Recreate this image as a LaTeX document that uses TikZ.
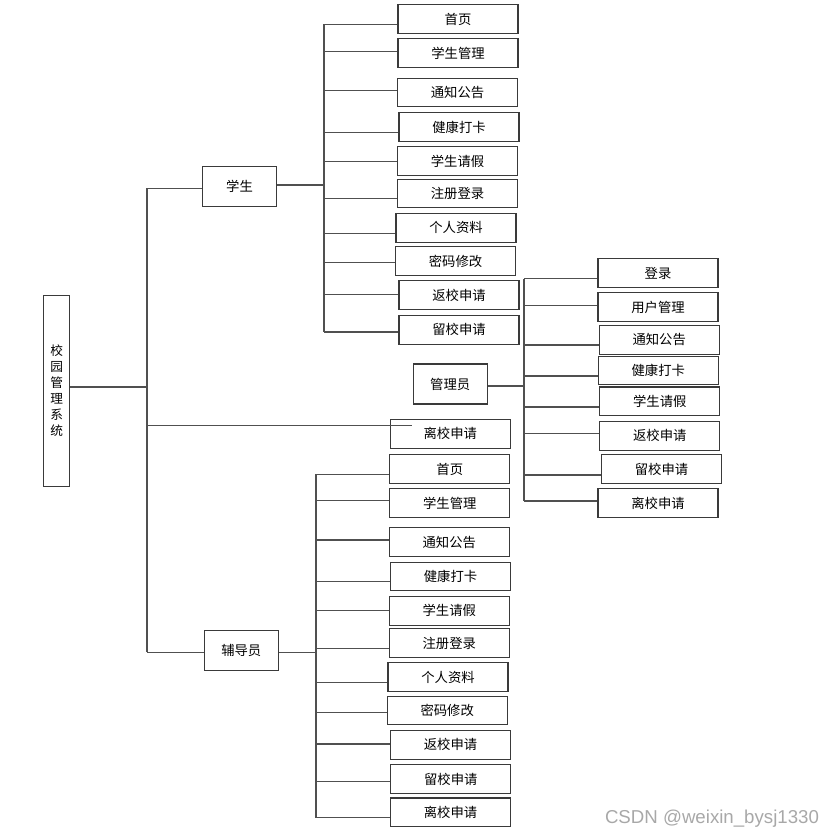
\documentclass[tikz,border=0pt]{standalone}
\usepackage{fontspec}
\newfontfamily\cjk{Noto Sans CJK SC}
\newfontfamily\wmfont{Liberation Sans}
\definecolor{boxline}{HTML}{3A3A3A}
\definecolor{linec}{HTML}{505050}
\definecolor{wmgray}{HTML}{A8A8A8}
\begin{document}
\begin{tikzpicture}[x=0.75pt,y=-0.75pt,
  bx/.style={draw=boxline,line width=0.8pt,minimum width=90pt,minimum height=21.5pt,inner sep=0pt,font=\cjk\fontsize{10}{12}\selectfont},
  midbox/.style={bx,minimum width=55.5pt,minimum height=30pt},
  ln/.style={draw=linec,line width=0.9pt}]
\useasboundingbox (0,0) rectangle (836,838);
% root
\node[bx,minimum width=19.5pt,minimum height=143pt,align=center,font=\cjk\fontsize{9.5}{12}\selectfont] (root) at (56.7,390.8) {校\\园\\管\\理\\系\\统};
% second level
\node[midbox] (st) at (239.5,186.2) {学生};
\node[midbox] (ad) at (450.2,384) {管理员};
\node[midbox] (co) at (241.3,650.2) {辅导员};
\node[bx] (lx) at (450.3,433.8) {离校申请};
% main bus
\coordinate (mt) at (147,188.3);
\coordinate (mr) at (147,387);
\coordinate (ml) at (147,425.5);
\coordinate (mb) at (147,652.3);
\coordinate (lxin) at (412,425.5);
\draw[ln] (mt) -- (mb);
\draw[ln] (mr -| root.east) -- (mr);
\draw[ln] (mt) -- (mt -| st.west);
\draw[ln] (mb) -- (mb -| co.west);
\draw[ln] (ml) -- (lxin);
% student children
\foreach \n/\x/\y/\t in {1/458/19.2/首页,2/458/53.3/学生管理,3/457.5/92.5/通知公告,4/459/127/健康打卡,5/457.5/161/学生请假,6/457.5/193.5/注册登录,7/456/227.7/个人资料,8/455.5/261/密码修改,9/459/295/返校申请,10/459/329.7/留校申请}
  {\node[bx] (s\n) at (\x,\y) {\t};}
\foreach \n/\y in {1/24.3,2/51.3,3/90.3,4/132.3,5/161.3,6/198.7,7/233.3,8/262.7,9/294.3,10/332}
  {\coordinate (sb\n) at (324,\y);
   \draw[ln] (sb\n) -- (sb\n -| s\n.west);}
\draw[ln] (sb1) -- (sb10);
\coordinate (sbm) at (324,185);
\draw[ln] (sbm -| st.east) -- (sbm);
% admin children
\foreach \n/\x/\y/\t in {1/658/273.2/登录,2/658/307/用户管理,3/659.2/339.8/通知公告,4/658.3/370.5/健康打卡,5/659.8/401.3/学生请假,6/659.8/435.7/返校申请,7/661.5/469.2/留校申请,8/658/503.2/离校申请}
  {\node[bx] (a\n) at (\x,\y) {\t};}
\foreach \n/\y in {1/278.7,2/305.3,3/345,4/376,5/407,6/433.3,7/475,8/501}
  {\coordinate (ab\n) at (524,\y);
   \draw[ln] (ab\n) -- (ab\n -| a\n.west);}
\draw[ln] (ab1) -- (ab8);
\coordinate (abm) at (524,386);
\draw[ln] (abm -| ad.east) -- (abm);
% counselor children
\foreach \n/\x/\y/\t in {1/449.8/469/首页,2/449.8/503/学生管理,3/449.3/542/通知公告,4/450.5/576.5/健康打卡,5/449.3/610.7/学生请假,6/449.3/643/注册登录,7/448/677/个人资料,8/447.2/710.5/密码修改,9/450.5/744.7/返校申请,10/450.8/779.2/留校申请,11/450.5/812.3/离校申请}
  {\node[bx] (c\n) at (\x,\y) {\t};}
\foreach \n/\y in {1/474.3,2/500.7,3/540,4/581.7,5/610.3,6/648.3,7/682.3,8/712.3,9/744,10/781.3,11/817.7}
  {\coordinate (cb\n) at (316,\y);
   \draw[ln] (cb\n) -- (cb\n -| c\n.west);}
\draw[ln] (cb1) -- (cb11);
\coordinate (cbm) at (316,652.3);
\draw[ln] (cbm -| co.east) -- (cbm);
% watermark
\node[text=wmgray,font=\wmfont\fontsize{14}{16}\selectfont,inner sep=0pt] (wm) at (712,819) {CSDN @weixin\_bysj1330};
\end{tikzpicture}
\end{document}
